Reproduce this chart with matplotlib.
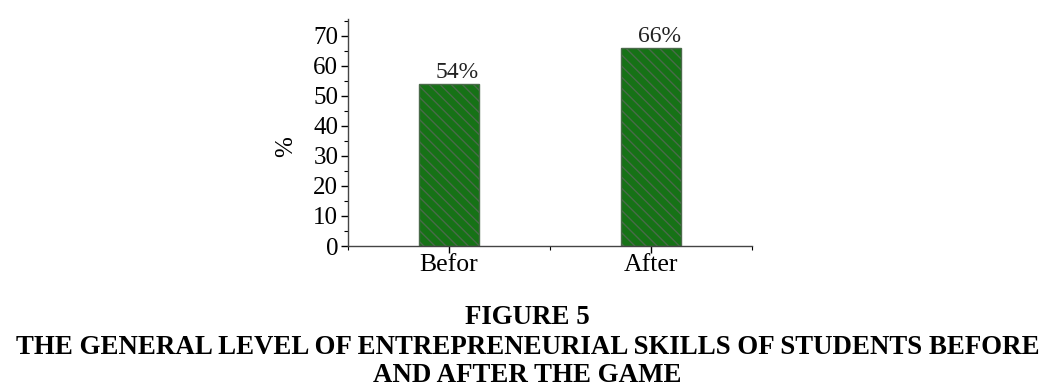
import numpy as np
import matplotlib.pyplot as plt
from matplotlib.ticker import MultipleLocator

categories = ["Befor", "After"]
values = [54, 66]
labels = ["54%", "66%"]

plt.rcParams['font.family'] = ['Liberation Serif', 'DejaVu Serif']
plt.rcParams['hatch.color'] = '#0a4c0a'
plt.rcParams['hatch.linewidth'] = 1.0

fig = plt.figure(figsize=(10.55, 3.92), dpi=100)
ax = fig.add_axes([0.3299, 0.3724, 0.3829, 0.5791])

x = np.arange(1, len(categories) + 1)
bars = ax.bar(x, values, width=0.3, color='#167216', edgecolor='#4a6a4a',
              linewidth=1.0, hatch='\\\\\\')

for b, lab in zip(bars, labels):
    ax.text(b.get_x() + b.get_width() / 2 + 0.04, b.get_height() + 0.2, lab,
            ha='center', va='bottom', fontsize=17, color='#222222')

ax.set_xlim(0.5, 2.5)
ax.set_ylim(0, 75.6)
ax.set_xticks(x)
ax.set_xticklabels(categories, fontsize=18.5)
ax.xaxis.set_minor_locator(MultipleLocator(0.5))
ax.yaxis.set_major_locator(MultipleLocator(10))
ax.yaxis.set_minor_locator(MultipleLocator(5))
ax.tick_params(axis='y', labelsize=18, direction='out', length=5, width=1, pad=2)
ax.tick_params(axis='x', direction='out', length=5, width=1, pad=1)
ax.tick_params(which='minor', direction='out', length=3, width=0.8)
ax.set_ylabel('%', fontsize=18)
ax.yaxis.set_label_coords(-0.125, 0.44)

for s in ['top', 'right']:
    ax.spines[s].set_visible(False)
for s in ['left', 'bottom']:
    ax.spines[s].set_color('#444444')
    ax.spines[s].set_linewidth(1.0)

fig.text(0.5, 1 - 318 / 392, 'FIGURE 5', ha='center', va='center',
         fontsize=19.4, fontweight='bold')
fig.text(0.5, 1 - 347 / 392,
         'THE GENERAL LEVEL OF ENTREPRENEURIAL SKILLS OF STUDENTS BEFORE',
         ha='center', va='center', fontsize=19.4, fontweight='bold')
fig.text(0.5, 1 - 375 / 392, 'AND AFTER THE GAME', ha='center', va='center',
         fontsize=19.4, fontweight='bold')

fig.savefig('out.png', dpi=100)
